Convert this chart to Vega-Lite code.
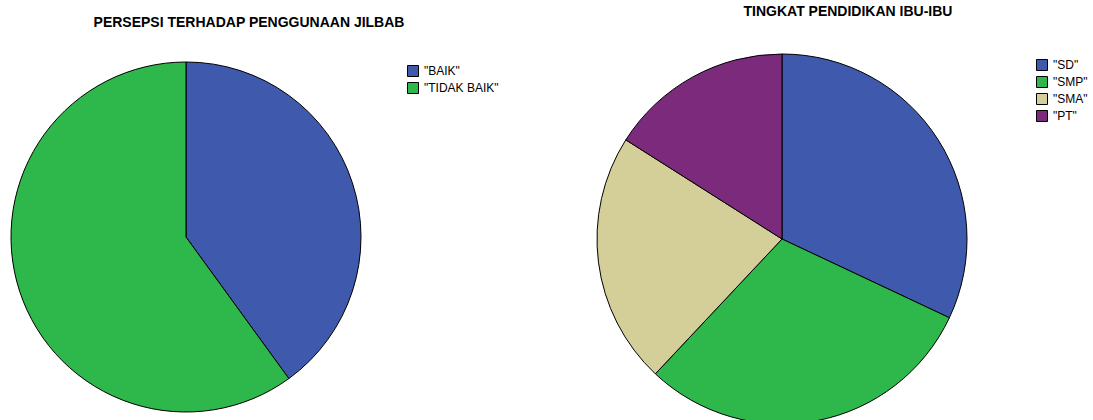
{
  "$schema": "https://vega.github.io/schema/vega-lite/v6.json",
  "padding": {"left": 0, "top": 5, "right": 0, "bottom": 0},
  "background": "white",
  "bounds": "flush",
  "spacing": 225,
  "config": {
    "view": {"stroke": null},
    "font": "Liberation Sans",
    "title": {"font": "Liberation Sans", "fontSize": 14, "fontWeight": "bold", "color": "black", "anchor": "middle", "baseline": "alphabetic"},
    "legend": {"labelFont": "Liberation Sans", "labelFontSize": 12, "labelColor": "black", "symbolType": "square", "symbolSize": 121, "symbolStrokeColor": "black", "symbolStrokeWidth": 1, "symbolOpacity": 1, "rowPadding": 1, "padding": 0, "labelOffset": 5}
  },
  "datasets": {
    "jilbab": [
      {"kategori": "\"BAIK\"", "jumlah": 20, "urut": 1},
      {"kategori": "\"TIDAK BAIK\"", "jumlah": 30, "urut": 2}
    ],
    "pendidikan": [
      {"kategori": "\"SD\"", "jumlah": 16, "urut": 1},
      {"kategori": "\"SMP\"", "jumlah": 15, "urut": 2},
      {"kategori": "\"SMA\"", "jumlah": 11, "urut": 3},
      {"kategori": "\"PT\"", "jumlah": 8, "urut": 4}
    ]
  },
  "resolve": {"scale": {"color": "independent"}, "legend": {"color": "independent"}},
  "hconcat": [
    {
      "title": {"text": "PERSEPSI TERHADAP PENGGUNAAN JILBAB", "offset": 24, "dx": 63},
      "width": 372,
      "height": 366,
      "data": {"name": "jilbab"},
      "mark": {"type": "arc", "radius": 175, "stroke": "black", "strokeWidth": 1},
      "encoding": {
        "theta": {"field": "jumlah", "type": "quantitative", "stack": true},
        "order": {"field": "urut", "type": "quantitative"},
        "color": {
          "field": "kategori", "type": "nominal",
          "scale": {"domain": ["\"BAIK\"", "\"TIDAK BAIK\""], "range": ["#3f5aad", "#2eb84b"]},
          "legend": {"title": null, "orient": "none", "legendX": 407, "legendY": 11}
        }
      }
    },
    {
      "title": {"text": "TINGKAT PENDIDIKAN IBU-IBU", "offset": 33, "dx": 66},
      "width": 370,
      "height": 370,
      "data": {"name": "pendidikan"},
      "mark": {"type": "arc", "radius": 185, "stroke": "black", "strokeWidth": 1},
      "encoding": {
        "theta": {"field": "jumlah", "type": "quantitative", "stack": true},
        "order": {"field": "urut", "type": "quantitative"},
        "color": {
          "field": "kategori", "type": "nominal",
          "scale": {"domain": ["\"SD\"", "\"SMP\"", "\"SMA\"", "\"PT\""], "range": ["#3f5aad", "#2eb84b", "#d4cf98", "#7b2a7c"]},
          "legend": {"title": null, "orient": "none", "legendX": 439, "legendY": 5}
        }
      }
    }
  ]
}
